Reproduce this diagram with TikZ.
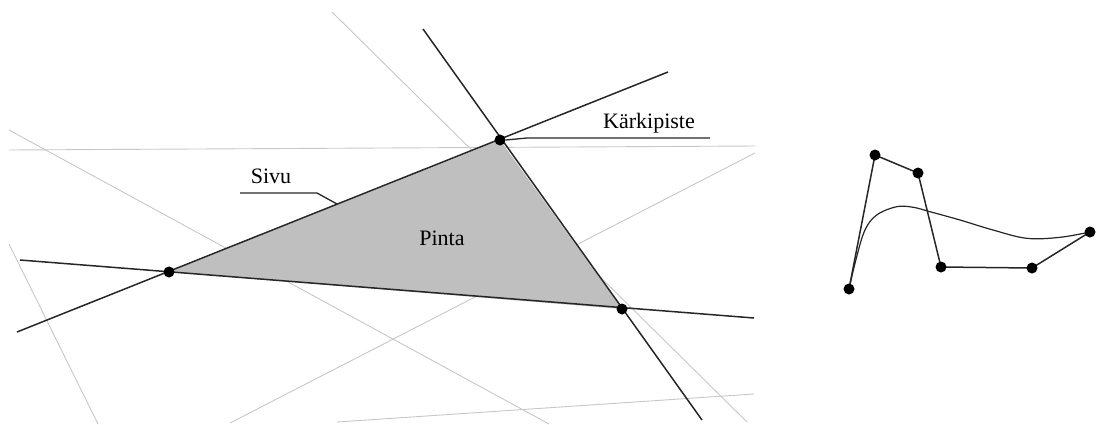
\documentclass[tikz,border=0pt]{standalone}
\usepackage{fontspec}
\setmainfont{Liberation Serif}
\begin{document}
\begin{tikzpicture}[x=1pt,y=-1pt,
  guide/.style={draw=black!22, line width=0.9pt},
  edgeline/.style={draw=black!85, line width=1.5pt},
  face/.style={fill=black!25},
  dot/.style={circle, fill=black, inner sep=0pt, minimum size=11pt},
  leader/.style={draw=black!85, line width=1.3pt},
  lbl/.style={font=\fontsize{22}{26}\selectfont, inner sep=0pt}]
\useasboundingbox (0,0) rectangle (1096,424);
% guide lines
\coordinate (g1a) at (9,150);   \coordinate (g1b) at (755,146);
\coordinate (g2a) at (332,12);  \coordinate (g2b) at (747,422);
\coordinate (g3a) at (9,130);   \coordinate (g3b) at (549,424);
\coordinate (g4a) at (9,244);   \coordinate (g4b) at (98,424);
\coordinate (g5a) at (230,423); \coordinate (g5b) at (755,153);
\coordinate (g6a) at (337,422); \coordinate (g6b) at (754,394);
\foreach \i in {1,...,6} {\draw[guide] (g\i a) -- (g\i b);}
% triangle
\coordinate (A) at (169,272);
\coordinate (B) at (500,140);
\coordinate (C) at (622,309);
\fill[face] (A) -- (B) -- (C) -- cycle;
% edge lines
\coordinate (l1a) at (17,332);  \coordinate (l1b) at (668,72);
\coordinate (l2a) at (20,260);  \coordinate (l2b) at (754,318);
\coordinate (l3a) at (423,29);  \coordinate (l3b) at (702,420);
\foreach \i in {1,2,3} {\draw[edgeline] (l\i a) -- (l\i b);}
\node[dot] (dA) at (A) {};
\node[dot] (dB) at (B) {};
\node[dot] (dC) at (C) {};
% labels
\node[lbl] (sivu) at (271,176) {Sivu};
\coordinate (s1) at (240,193); \coordinate (s2) at (317,193); \coordinate (s3) at (337,204);
\draw[leader] (s1) -- (s2) -- (s3);
\node[lbl] (karki) at (649,123) {Kärkipiste};
\coordinate (k1) at (710,138); \coordinate (k2) at (527,138);
\draw[leader] (k1) -- (k2) -- (dB.east);
\node[lbl] (pinta) at (442,238) {Pinta};
% right figure
\coordinate (P1) at (849,289);
\coordinate (P2) at (875,155);
\coordinate (P3) at (918,173);
\coordinate (P4) at (941,267);
\coordinate (P5) at (1032,268);
\coordinate (P6) at (1090,232);
\draw[edgeline] (P1) -- (P2) -- (P3) -- (P4) -- (P5) -- (P6);
\draw[edgeline, line width=1.2pt] plot[smooth, tension=0.6] coordinates {(849,289) (856.7,256.7) (865,230) (876.7,215) (896.7,206.7) (913.3,207.3) (930,211.7) (960,220) (993,230) (1026.7,238.3) (1060,237.3) (1090,232)};
\foreach \i in {1,...,6} {\node[dot] (dP\i) at (P\i) {};}
\end{tikzpicture}
\end{document}
